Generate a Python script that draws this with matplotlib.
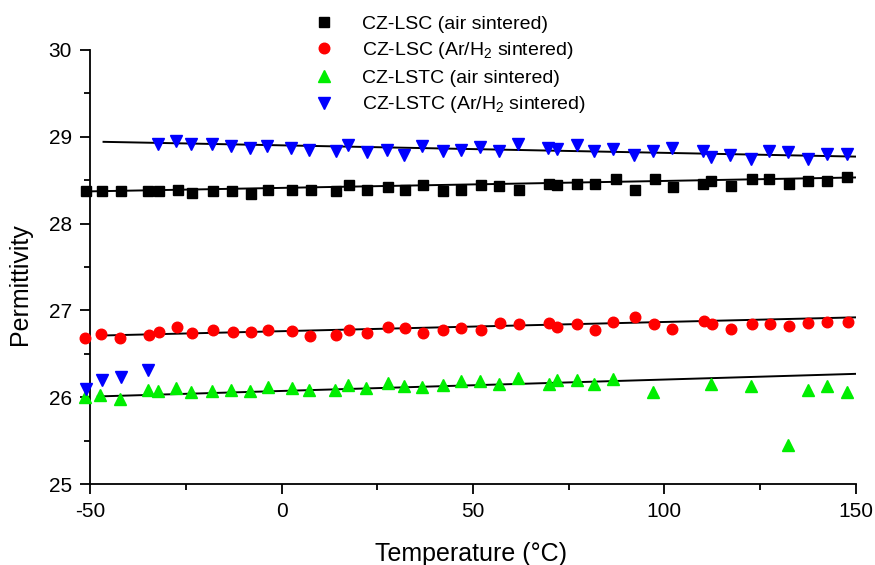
import numpy as np
import matplotlib
matplotlib.use("Agg")
import matplotlib.pyplot as plt

plt.rcParams['font.family'] = ['Liberation Sans', 'DejaVu Sans']
plt.rcParams['mathtext.default'] = 'regular'
plt.rcParams['axes.unicode_minus'] = False

# CZ-LSC (air sintered)
t_lsc_air = [-51, -47, -42, -35, -32, -27, -23.5, -18, -13, -8, -3.5, 2.8, 7.6,
             14.3, 17.6, 22.3, 27.8, 32.2, 37, 42.1, 47, 52.1, 56.9, 62, 69.8, 71.9,
             77.2, 81.8, 87.3, 92.3, 97.6, 102.3, 110, 112.3, 117.4, 123, 127.3,
             132.5, 137.6, 142.4, 147.7]
p_lsc_air = [28.37, 28.37, 28.37, 28.37, 28.37, 28.39, 28.35, 28.37, 28.37, 28.34, 28.39, 28.39, 28.39,
             28.37, 28.44, 28.39, 28.42, 28.39, 28.44, 28.37, 28.39, 28.44, 28.43, 28.39, 28.46, 28.44,
             28.46, 28.46, 28.51, 28.38, 28.51, 28.42, 28.46, 28.49, 28.43, 28.51, 28.51,
             28.46, 28.49, 28.49, 28.53]

# CZ-LSC (Ar/H2 sintered)
t_lsc_ar = [-51.3, -47.2, -42.2, -34.5, -32, -27.4, -23.3, -18, -12.8, -8, -3.6, 2.7, 7.4,
            14.2, 17.6, 22.3, 27.7, 32.2, 37, 42.1, 47, 52.1, 57, 62, 69.8, 71.9,
            77.3, 81.9, 86.6, 92.3, 97.3, 102, 110.3, 112.5, 117.4, 122.9, 127.5,
            132.5, 137.5, 142.6, 148]
p_lsc_ar = [26.68, 26.73, 26.68, 26.72, 26.75, 26.81, 26.74, 26.77, 26.75, 26.75, 26.78, 26.76, 26.71,
            26.72, 26.78, 26.74, 26.81, 26.80, 26.74, 26.77, 26.80, 26.78, 26.85, 26.84, 26.85, 26.81,
            26.84, 26.78, 26.87, 26.92, 26.84, 26.79, 26.88, 26.84, 26.79, 26.84, 26.84,
            26.82, 26.85, 26.87, 26.87]

# CZ-LSTC (air sintered)
t_lstc_air = [-51.3, -47.4, -42.2, -34.8, -32.2, -27.5, -23.6, -18.1, -13.3, -8.2, -3.6, 2.7, 7.3,
              14, 17.4, 22.1, 27.7, 32.1, 36.8, 42.1, 46.8, 51.8, 56.9, 61.8, 69.8, 71.9,
              77.1, 81.6, 86.6, 97.1, 112.1, 122.6, 132.3, 137.4, 142.4, 147.6]
p_lstc_air = [26.00, 26.03, 25.98, 26.08, 26.07, 26.11, 26.06, 26.07, 26.08, 26.07, 26.12, 26.11, 26.08,
              26.08, 26.14, 26.11, 26.16, 26.13, 26.12, 26.14, 26.19, 26.19, 26.15, 26.22, 26.15, 26.20,
              26.20, 26.15, 26.21, 26.06, 26.15, 26.13, 25.45, 26.08, 26.13, 26.06]

# CZ-LSTC (Ar/H2 sintered)
t_lstc_ar = [-51, -47, -42, -35, -32.3, -27.5, -23.6, -18.1, -13.3, -8.2, -3.7, 2.6, 7.3,
             14.2, 17.4, 22.2, 27.6, 32.1, 36.8, 42.1, 46.9, 51.8, 56.9, 61.8, 69.5, 71.9,
             77.2, 81.6, 86.6, 92, 97.1, 102, 110.1, 112.1, 117.2, 122.7, 127.3,
             132.3, 137.4, 142.4, 147.6]
p_lstc_ar = [26.10, 26.20, 26.23, 26.31, 28.91, 28.95, 28.91, 28.91, 28.89, 28.87, 28.89, 28.87, 28.85,
             28.83, 28.90, 28.82, 28.85, 28.79, 28.89, 28.84, 28.85, 28.88, 28.83, 28.92, 28.87, 28.86,
             28.90, 28.84, 28.86, 28.79, 28.84, 28.87, 28.84, 28.77, 28.79, 28.74, 28.84,
             28.82, 28.74, 28.80, 28.80]

# linear fits (start/end temperature and permittivity)
fit_lsc_air = ([-50, 150], [28.37, 28.53])
fit_lsc_ar = ([-48, 150], [26.71, 26.92])
fit_lstc_air = ([-48, 150], [26.01, 26.27])
fit_lstc_ar = ([-46.5, 150], [28.94, 28.77])

fig = plt.figure(figsize=(8.75, 5.65), dpi=100)
ax = fig.add_axes([0.103, 0.143, 0.875, 0.769])

for fx, fy in [fit_lsc_air, fit_lsc_ar, fit_lstc_air, fit_lstc_ar]:
    ax.plot(fx, fy, color='k', lw=1.4, zorder=3)

ax.plot(t_lsc_air, p_lsc_air, 's', color='k', ms=6.8, ls='none', clip_on=False,
        zorder=4, label='CZ-LSC (air sintered)')
ax.plot(t_lsc_ar, p_lsc_ar, 'o', color='#ff0000', ms=7.6, ls='none', clip_on=False,
        zorder=4, label='CZ-LSC (Ar/H$_2$ sintered)')
ax.plot(t_lstc_air, p_lstc_air, '^', color='#00ee00', ms=8, ls='none', clip_on=False,
        zorder=4, label='CZ-LSTC (air sintered)')
ax.plot(t_lstc_ar, p_lstc_ar, 'v', color='#0000ff', ms=8, ls='none', clip_on=False,
        zorder=4, label='CZ-LSTC (Ar/H$_2$ sintered)')

ax.set_xlim(-50, 150)
ax.set_ylim(25, 30)
ax.set_xticks([-50, 0, 50, 100, 150])
ax.set_xticks([-25, 25, 75, 125], minor=True)
ax.set_yticks([25, 26, 27, 28, 29, 30])
ax.set_yticks([25.5, 26.5, 27.5, 28.5, 29.5], minor=True)
ax.spines['top'].set_visible(False)
ax.spines['right'].set_visible(False)
ax.spines['left'].set_linewidth(1.3)
ax.spines['bottom'].set_linewidth(1.3)
ax.tick_params(which='major', direction='out', length=7, width=1.3, labelsize=15, pad=6)
ax.tick_params(which='minor', direction='out', length=4, width=1.3)

ax.set_xlabel('Temperature (°C)', fontsize=18)
ax.set_ylabel('Permittivity', fontsize=18)
ax.xaxis.set_label_coords(0.497, -0.134)
ax.yaxis.set_label_coords(-0.076, 0.461)

fig.legend(loc='upper left', bbox_to_anchor=(0.3326, 0.9977), frameon=False, fontsize=14,
           numpoints=1, handletextpad=0.96, labelspacing=0.4, borderaxespad=0.3)

fig.savefig('out.png', dpi=100)
